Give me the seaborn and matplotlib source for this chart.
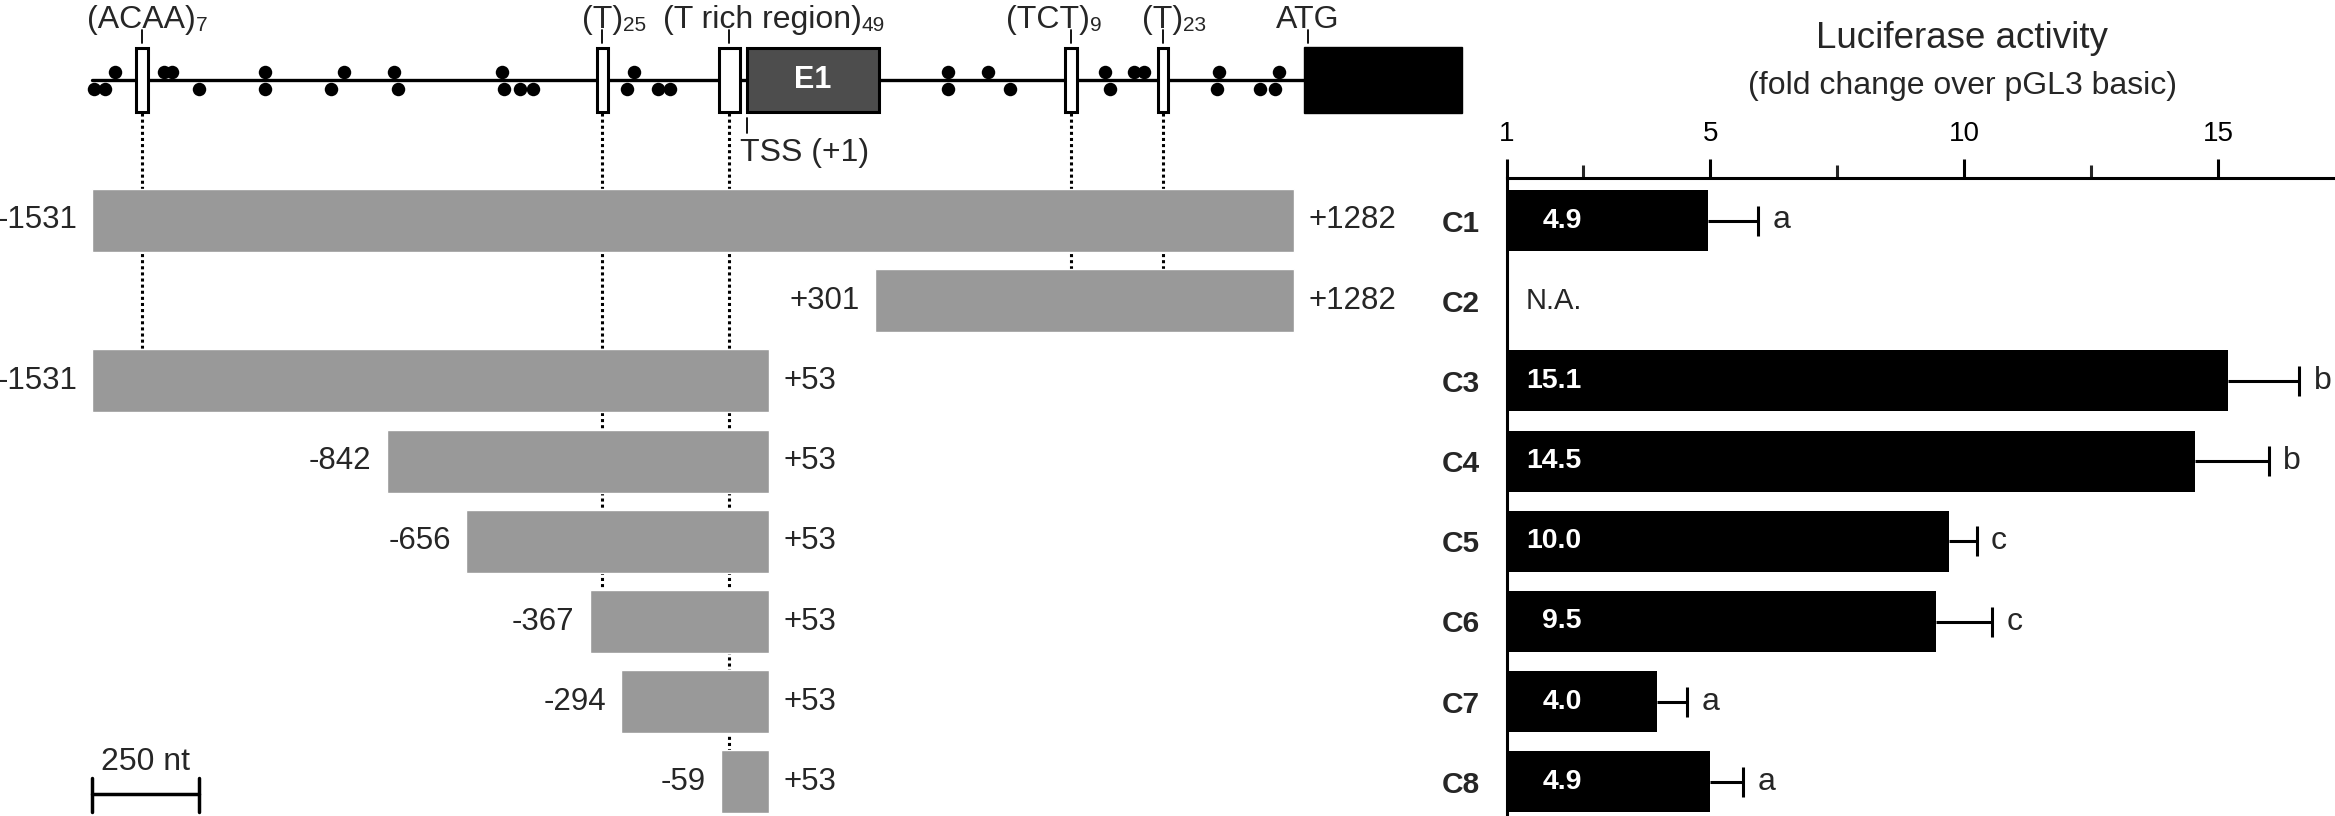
import numpy as np
import pandas as pd
import seaborn as sns
import matplotlib.pyplot as plt
from matplotlib.patches import Rectangle

# promoter deletion constructs, positions in nt relative to TSS (+1)
constructs = ["C1", "C2", "C3", "C4", "C5", "C6", "C7", "C8"]
starts = [-1531, 301, -1531, -842, -656, -367, -294, -59]
ends = [1282, 1282, 53, 53, 53, 53, 53, 53]

# luciferase activity (fold change over pGL3 basic)
activity = [4.95, np.nan, 15.2, 14.55, 9.7, 9.45, 3.95, 5.0]
activity_err = [1.0, np.nan, 1.4, 1.45, 0.55, 1.1, 0.6, 0.65]
value_labels = ["4.9", "N.A.", "15.1", "14.5", "10.0", "9.5", "4.0", "4.9"]
groups = ["a", "", "b", "b", "c", "c", "a", "a"]

# repeat elements in the promoter
repeat_names = ["(ACAA)", "(T)", "(T rich region)", "(TCT)", "(T)"]
repeat_subs = ["7", "25", "49", "9", "23"]
repeat_pos = [-1415, -337, -40, 760, 975]
repeat_len = [28, 25, 49, 27, 23]
repeat_label_pos = [-1415, -337, 37, 706, 975]

# variant sites drawn above / below the line
snp_above = [-1478, -1362, -1344, -1126, -941, -824, -573, -264,
             473, 566, 839, 907, 931, 1107, 1247]
snp_below = [-1528, -1502, -1281, -1126, -973, -815, -567, -529, -499,
             -280, -207, -179, 473, 617, 851, 1101, 1203, 1238]

exon1 = [1, 310]
cds = [1305, 1675]
scale_nt = 250

W, H = 2335, 816
sns.set_style("white")
plt.rcParams["font.family"] = ["Liberation Sans", "DejaVu Sans"]

fig = plt.figure(figsize=(W / 100, H / 100), dpi=100)


def row(px):
    # figure pixel (from top) -> row units
    return (px - 220.5) / 80.2


px_per_nt = 0.4272
x0 = -1531 - 92.3 / px_per_nt
ax = fig.add_axes([0, 0, 1480 / W, 1])
ax.set_xlim(x0, x0 + 1480 / px_per_nt)
ax.set_ylim(row(H), row(0))
ax.axis("off")

idx = np.arange(len(constructs))
widths = np.array(ends) - np.array(starts)
ax.barh(idx, widths, left=starts, height=0.785, color="#999999", zorder=2)
for i in idx:
    ax.text(starts[i] - 35, i, f"{starts[i]:+d}".replace("+-", "-"), ha="right",
            va="center", fontsize=22.5)
    ax.text(ends[i] + 33, i, f"{ends[i]:+d}", ha="left", va="center", fontsize=22.5)

# dotted guides from each repeat down to the last construct containing it
for p in repeat_pos:
    deepest = max(i for i in idx if starts[i] <= p <= ends[i])
    ax.plot([p, p], [row(113), deepest], color="black", lw=2.2,
            ls=(0, (1, 1)), zorder=1)

# gene diagram
ax.plot([starts[0], cds[0]], [row(80), row(80)], color="black", lw=2.4, zorder=3)
box_top, box_h = row(48), row(112) - row(48)
for p, L in zip(repeat_pos, repeat_len):
    ax.add_patch(Rectangle((p - L / 2, box_top), L, box_h, facecolor="white",
                           edgecolor="black", lw=2.2, zorder=4))
ax.add_patch(Rectangle((exon1[0], box_top), exon1[1] - exon1[0], box_h,
                       facecolor="#4d4d4d", edgecolor="black", lw=2.2, zorder=4))
ax.text(np.mean(exon1), row(80), "E1", color="white", fontweight="bold",
        fontsize=22, ha="center", va="center", zorder=5)
ax.add_patch(Rectangle((cds[0], row(47)), cds[1] - cds[0], row(113) - row(47),
                       facecolor="black", edgecolor="black", lw=1, zorder=4))
ax.plot(snp_above, [row(72)] * len(snp_above), "o", color="black", ms=9.7,
        mew=0, zorder=5)
ax.plot(snp_below, [row(89)] * len(snp_below), "o", color="black", ms=9.7,
        mew=0, zorder=5)

for p, lp, name, sub in zip(repeat_pos, repeat_label_pos, repeat_names, repeat_subs):
    ax.plot([p, p], [row(30), row(43)], color="black", lw=1.3)
    t = ax.text(lp, row(28), name, ha="center", va="baseline", fontsize=23)
    ax.annotate(sub, xy=(1, 0), xycoords=t, ha="left", va="bottom", fontsize=15)
ax.plot([cds[0] + 10] * 2, [row(30), row(43)], color="black", lw=1.3)
ax.text(cds[0] + 10, row(28), "ATG", ha="center", va="baseline", fontsize=23)
ax.plot([exon1[0]] * 2, [row(118), row(133)], color="black", lw=1.3)
ax.text(exon1[0] - 17, row(138), "TSS (+1)", ha="left", va="top", fontsize=23)

# scale bar
sb = [starts[0], starts[0] + scale_nt]
ax.plot(sb, [row(794)] * 2, color="black", lw=2.5)
for s in sb:
    ax.plot([s, s], [row(778), row(812)], color="black", lw=2.5)
ax.text(np.mean(sb), row(770), f"{scale_nt} nt", ha="center", va="baseline",
        fontsize=23)

# luciferase bars
ax2 = fig.add_axes([1507 / W, 0, (W - 1507) / W, (H - 178) / H])
df = pd.DataFrame({"construct": constructs, "activity": activity})
sns.barplot(data=df, x="activity", y="construct", orient="h", color="black",
            saturation=1, width=0.76, errorbar=None, linewidth=0, ax=ax2)
eb = ax2.errorbar(activity, idx, xerr=[np.zeros(len(idx)), activity_err],
                  fmt="none", ecolor="black", elinewidth=2.2, capsize=10.8,
                  capthick=2.2, zorder=0.5)
# only keep the outer cap
act = np.array(activity)
for cap in eb[1]:
    xd = np.asarray(cap.get_xdata(), dtype=float)
    if np.allclose(xd[~np.isnan(xd)], act[~np.isnan(act)]):
        cap.set_visible(False)
ax2.set_xlim(1, 1 + (W - 1507) / 50.8)
ax2.set_ylim(row(H), row(178))

for i in idx:
    if np.isnan(activity[i]):
        ax2.text(2.47, i, value_labels[i], ha="right", va="center", fontsize=21)
        continue
    ax2.text(2.47, i, value_labels[i], ha="right", va="center", fontsize=20.5,
             color="white", fontweight="bold")
    ax2.text(activity[i] + activity_err[i] + 0.28, i, groups[i], ha="left",
             va="center", fontsize=23)

ax2.xaxis.tick_top()
ax2.set_xticks([1, 5, 10, 15])
ax2.set_xticks([2.5, 7.5, 12.5], minor=True)
ax2.tick_params(axis="x", which="major", direction="out", length=13.5, width=2.2,
                pad=9, labelsize=20, colors="black")
ax2.tick_params(axis="x", which="minor", direction="out", length=9.4, width=2.2)
ax2.tick_params(axis="y", length=0, pad=19.4, labelsize=21.5)
for lab in ax2.get_yticklabels():
    lab.set_fontweight("bold")
ax2.set_xlabel("")
ax2.set_ylabel("")
for s in ["right", "bottom"]:
    ax2.spines[s].set_visible(False)
for s in ["top", "left"]:
    ax2.spines[s].set_linewidth(2.2)
    ax2.spines[s].set_color("black")

fig.text(1962 / W, 1 - 48 / H, "Luciferase activity", ha="center", va="baseline",
         fontsize=26.5)
fig.text(1963 / W, 1 - 94 / H, "(fold change over pGL3 basic)", ha="center",
         va="baseline", fontsize=23)

fig.savefig("out.png", dpi=100)
